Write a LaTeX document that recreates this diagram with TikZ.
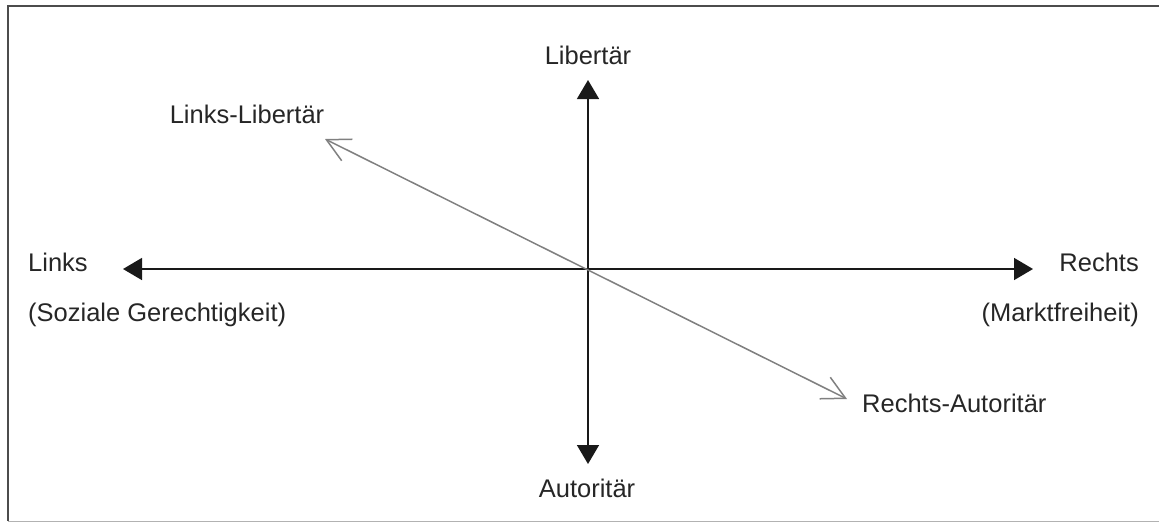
\documentclass[tikz,border=0pt]{standalone}
\usepackage{fontspec}
\setmainfont{Liberation Sans}
\usepackage{tikz}
\usetikzlibrary{arrows.meta}

\tikzset{
  axis/.style={line width=1.6pt, black!90,
    {Triangle[length=19pt,width=22pt]}-{Triangle[length=19pt,width=22pt]}},
  diag/.style={line width=1.5pt, black!50,
    {Straight Barb[length=23pt,width=24pt]}-{Straight Barb[length=23pt,width=24pt]}},
  lbl/.style={inner sep=0pt, text=black!85}
}

\begin{document}
\begin{tikzpicture}[x=1pt, y=-1pt, font=\fontsize{25.5}{30}\selectfont]
  \useasboundingbox (0,0) rectangle (1159,523);
  % frame
  \draw[line width=2pt, black!70] (1165,6) -- (8,6) -- (8,521);
  \draw[line width=1pt, black!30] (8,521) -- (1165,521);
  % axes
  \coordinate (o) at (588,269);
  \coordinate (links) at (123,269);
  \coordinate (rechts) at (1033,269);
  \coordinate (lib) at (588,80);
  \coordinate (aut) at (588,464);
  \coordinate (ll) at (325,139);
  \coordinate (ra) at (847,399);
  \draw[axis] (links) -- (rechts);
  \draw[axis] (aut) -- (lib);
  \draw[diag] (ll) -- (ra);
  % labels
  \node[lbl, anchor=base] (tLib) at (588,64) {Libertär};
  \node[lbl, anchor=base] (tAut) at (587,497) {Autoritär};
  \node[lbl, anchor=base] (tLL) at (247,123) {Links-Libertär};
  \node[lbl, anchor=base west] (tRA) at (862,412) {Rechts-Autoritär};
  \node[lbl, anchor=base west] (tL) at (28,271) {Links};
  \node[lbl, anchor=base west] (tLs) at (28,321) {(Soziale Gerechtigkeit)};
  \node[lbl, anchor=base east] (tR) at (1139,271) {Rechts};
  \node[lbl, anchor=base east] (tRs) at (1139,321) {(Marktfreiheit)};
\end{tikzpicture}
\end{document}
